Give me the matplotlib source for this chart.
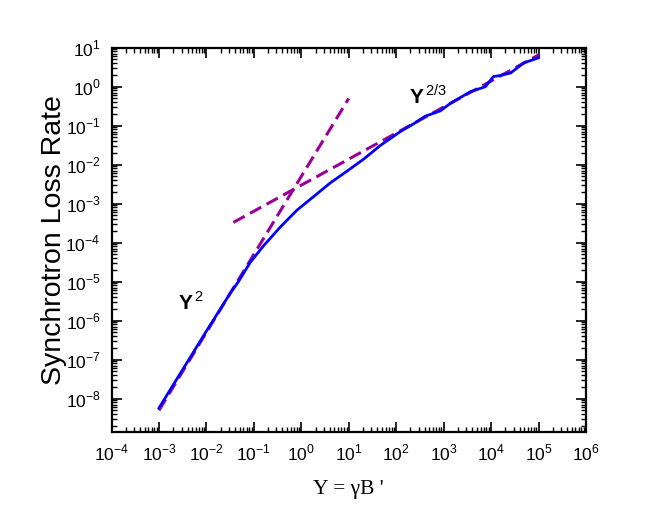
import numpy as np
import matplotlib
matplotlib.use("Agg")
import matplotlib.pyplot as plt
from matplotlib.ticker import LogLocator, FuncFormatter, NullFormatter

plt.rcParams['font.family'] = ['Liberation Sans', 'DejaVu Sans']
plt.rcParams['mathtext.fontset'] = 'custom'
plt.rcParams['mathtext.rm'] = 'Liberation Sans'
plt.rcParams['mathtext.bf'] = 'Liberation Sans:bold'

# synchrotron loss rate (solid curve)
y_param = [1e-3, 1e-2, 0.0316, 0.0473, 0.0836, 0.160, 0.359, 0.807, 1.81,
           4.07, 9.16, 20.5, 46.2, 123, 234, 407, 851, 1380,
           3630, 7590, 1.12e4, 1.45e4, 2.57e4, 4.9e4, 1e5]
loss_rate = [5.75e-9, 5.4e-7, 5.0e-6, 1.0e-5, 3.1e-5, 8.3e-5, 2.5e-4,
             6.8e-4, 1.51e-3, 3.4e-3, 6.8e-3, 1.38e-2, 3.1e-2, 7.1e-2,
             0.112, 0.174, 0.24, 0.37, 0.74, 1.0, 1.82, 1.9, 2.24,
             4.07, 5.5]

# asymptotes (dashed), end points of each power law
y2_x = [1e-3, 10.0]
y2_rate = [5e-9, 0.5]
y23_x = [0.037, 1e5]
y23_rate = [3.3e-4, 6.5]

fig = plt.figure(figsize=(6.54, 5.05), dpi=100)
ax = fig.add_axes([0.1705, 0.1446, 0.7255, 0.761])

dash_col = '#990099'
ax.plot(y2_x, y2_rate, color=dash_col, lw=2.2, dashes=(4.2, 2.0))
ax.plot(y23_x, y23_rate, color=dash_col, lw=2.2, dashes=(4.2, 2.0))
ax.plot(y_param, loss_rate, color='#0000ff', lw=2.0)

ax.set_xscale('log')
ax.set_yscale('log')
ax.set_xlim(1e-4, 1e6)
ax.set_ylim(1.4e-9, 10)

fmt = FuncFormatter(lambda v, p: r'$10^{%d}$' % int(round(np.log10(v))))
for axis in (ax.xaxis, ax.yaxis):
    axis.set_major_locator(LogLocator(base=10, numticks=20))
    axis.set_minor_locator(LogLocator(base=10, subs=np.arange(2, 10), numticks=20))
    axis.set_major_formatter(fmt)
    axis.set_minor_formatter(NullFormatter())

ax.tick_params(which='both', direction='in', top=True, right=True)
ax.tick_params(which='major', length=7, width=1.2, labelsize=12.5, pad=8)
ax.tick_params(which='minor', length=3.5, width=1.0)
for s in ax.spines.values():
    s.set_linewidth(1.6)

ax.set_ylabel('Synchrotron Loss Rate', fontsize=20.5, labelpad=-1)
ax.set_xlabel("Y = \u03b3B '", fontsize=15.5, family='Liberation Serif', labelpad=12)

ax.text(4.8e-3, 3e-6, r'$\mathbf{Y}^{\,2}$', fontsize=15, ha='center', va='center')
ax.text(480, 0.6, r'$\mathbf{Y}^{\,2/3}$', fontsize=15, ha='center', va='center')

fig.savefig('out.png', dpi=100)
